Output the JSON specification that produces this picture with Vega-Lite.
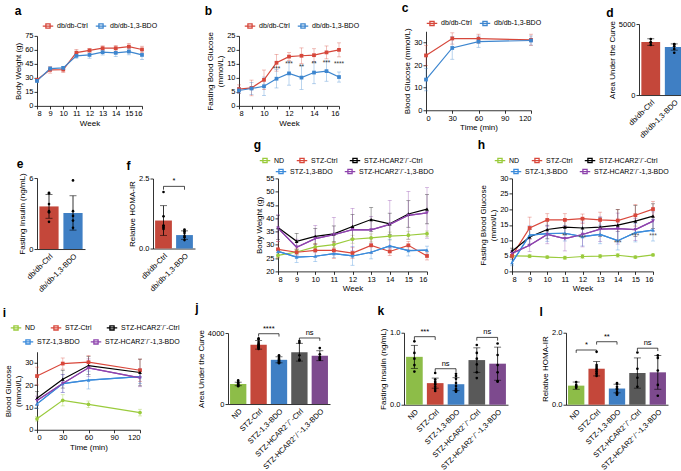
{
"$schema": "https://vega.github.io/schema/vega-lite/v6.json",
"padding": {"left": 2, "top": 2, "right": 0, "bottom": 0},
"config": {
 "font": "Liberation Sans",
 "view": {"stroke": null},
 "axis": {"grid": false, "domainColor": "#000", "tickColor": "#000", "labelColor": "#000", "titleColor": "#000", "labelFontSize": 7.5, "titleFontSize": 8, "titleFontWeight": "normal", "tickSize": 3, "domainWidth": 0.8, "tickWidth": 0.8, "labelPadding": 1, "titlePadding": 2},
 "legend": {"labelFontSize": 7, "labelColor": "#000", "labelOffset": 3, "columnPadding": 5},
 "title": {"fontSize": 12, "fontWeight": "bold", "anchor": "start", "frame": "bounds", "offset": 2, "color": "#000"}
},
"datasets": {
 "a": [
  {"group":"db/db-Ctrl","week":8,"mean":27.9,"sd":1.5},{"group":"db/db-Ctrl","week":9,"mean":38.6,"sd":3.5},{"group":"db/db-Ctrl","week":10,"mean":38.8,"sd":3},{"group":"db/db-Ctrl","week":11,"mean":57,"sd":3.5},{"group":"db/db-Ctrl","week":12,"mean":59.5,"sd":2},{"group":"db/db-Ctrl","week":13,"mean":61.8,"sd":2.5},{"group":"db/db-Ctrl","week":14,"mean":61.8,"sd":3},{"group":"db/db-Ctrl","week":15,"mean":63.5,"sd":3.5},{"group":"db/db-Ctrl","week":16,"mean":60.4,"sd":3.5},
  {"group":"db/db-1,3-BDO","week":8,"mean":26.8,"sd":1.5},{"group":"db/db-1,3-BDO","week":9,"mean":40,"sd":1.5},{"group":"db/db-1,3-BDO","week":10,"mean":40.7,"sd":1.5},{"group":"db/db-1,3-BDO","week":11,"mean":53.6,"sd":2.5},{"group":"db/db-1,3-BDO","week":12,"mean":54.6,"sd":3.5},{"group":"db/db-1,3-BDO","week":13,"mean":57.5,"sd":3},{"group":"db/db-1,3-BDO","week":14,"mean":56.8,"sd":4},{"group":"db/db-1,3-BDO","week":15,"mean":58.2,"sd":3.5},{"group":"db/db-1,3-BDO","week":16,"mean":54.6,"sd":5}
 ],
 "b": [
  {"group":"db/db-Ctrl","week":8,"mean":6.0,"sd":1.5},{"group":"db/db-Ctrl","week":9,"mean":6.4,"sd":2.8},{"group":"db/db-Ctrl","week":10,"mean":9.3,"sd":3.5},{"group":"db/db-Ctrl","week":11,"mean":15.4,"sd":3},{"group":"db/db-Ctrl","week":12,"mean":17.6,"sd":1.4},{"group":"db/db-Ctrl","week":13,"mean":17.9,"sd":2.8},{"group":"db/db-Ctrl","week":14,"mean":18.1,"sd":2.3},{"group":"db/db-Ctrl","week":15,"mean":19.1,"sd":2.3},{"group":"db/db-Ctrl","week":16,"mean":20.0,"sd":2.5},
  {"group":"db/db-1,3-BDO","week":8,"mean":5.5,"sd":1.0},{"group":"db/db-1,3-BDO","week":9,"mean":6.2,"sd":2.2},{"group":"db/db-1,3-BDO","week":10,"mean":7.0,"sd":3.3},{"group":"db/db-1,3-BDO","week":11,"mean":9.7,"sd":3.3},{"group":"db/db-1,3-BDO","week":12,"mean":11.6,"sd":4.2},{"group":"db/db-1,3-BDO","week":13,"mean":10.1,"sd":4.2},{"group":"db/db-1,3-BDO","week":14,"mean":11.9,"sd":4.0},{"group":"db/db-1,3-BDO","week":15,"mean":12.4,"sd":3.6},{"group":"db/db-1,3-BDO","week":16,"mean":10.3,"sd":1.8}
 ],
 "b_sig": [
  {"week":11,"y":12.0,"label":"***"},{"week":12,"y":13.9,"label":"***"},{"week":13,"y":12.8,"label":"**"},{"week":14,"y":13.9,"label":"**"},{"week":15,"y":14.2,"label":"***"},{"week":16,"y":13.9,"label":"****"}
 ],
 "c": [
  {"group":"db/db-Ctrl","week":0,"mean":24.3,"sd":4.5},{"group":"db/db-Ctrl","week":30,"mean":31.8,"sd":2.5},{"group":"db/db-Ctrl","week":60,"mean":31.7,"sd":2},{"group":"db/db-Ctrl","week":120,"mean":31.2,"sd":2.5},
  {"group":"db/db-1,3-BDO","week":0,"mean":13.6,"sd":5},{"group":"db/db-1,3-BDO","week":30,"mean":27.6,"sd":5},{"group":"db/db-1,3-BDO","week":60,"mean":30.4,"sd":2.5},{"group":"db/db-1,3-BDO","week":120,"mean":30.9,"sd":2}
 ],
 "d_bar": [{"group":"db/db-Ctrl","mean":3730,"sd":230},{"group":"db/db-1,3-BDO","mean":3380,"sd":220}],
 "d_pts": [{"group":"db/db-Ctrl","value":3940},{"group":"db/db-Ctrl","value":3710},{"group":"db/db-Ctrl","value":3690},{"group":"db/db-Ctrl","value":3520},{"group":"db/db-1,3-BDO","value":3590},{"group":"db/db-1,3-BDO","value":3560},{"group":"db/db-1,3-BDO","value":3430},{"group":"db/db-1,3-BDO","value":3240},{"group":"db/db-1,3-BDO","value":2980}],
 "e_bar": [{"group":"db/db-Ctrl","mean":3.6,"sd":1.0},{"group":"db/db-1,3-BDO","mean":3.05,"sd":1.45}],
 "e_pts": [{"group":"db/db-Ctrl","value":4.75},{"group":"db/db-Ctrl","value":4.7},{"group":"db/db-Ctrl","value":3.8},{"group":"db/db-Ctrl","value":3.2},{"group":"db/db-Ctrl","value":3.1},{"group":"db/db-Ctrl","value":2.3},{"group":"db/db-1,3-BDO","value":5.8},{"group":"db/db-1,3-BDO","value":3.2},{"group":"db/db-1,3-BDO","value":2.8},{"group":"db/db-1,3-BDO","value":2.4},{"group":"db/db-1,3-BDO","value":1.8}],
 "f_bar": [{"group":"db/db-Ctrl","mean":1.0,"sd":0.53},{"group":"db/db-1,3-BDO","mean":0.48,"sd":0.15}],
 "f_pts": [{"group":"db/db-Ctrl","value":2.02},{"group":"db/db-Ctrl","value":1.15},{"group":"db/db-Ctrl","value":0.82},{"group":"db/db-Ctrl","value":0.8},{"group":"db/db-Ctrl","value":0.75},{"group":"db/db-Ctrl","value":0.7},{"group":"db/db-1,3-BDO","value":0.68},{"group":"db/db-1,3-BDO","value":0.62},{"group":"db/db-1,3-BDO","value":0.55},{"group":"db/db-1,3-BDO","value":0.45},{"group":"db/db-1,3-BDO","value":0.4},{"group":"db/db-1,3-BDO","value":0.3}],
 "f_sig": [{"g1":"db/db-Ctrl","g2":"db/db-1,3-BDO","y":2.22,"yt":2.1,"label":"*"}],
 "g": [
  {"group":"ND","week":8,"mean":26.0,"sd":1.0},{"group":"ND","week":9,"mean":27.3,"sd":1.0},{"group":"ND","week":10,"mean":29.2,"sd":1.2},{"group":"ND","week":11,"mean":30.1,"sd":1.2},{"group":"ND","week":12,"mean":32.1,"sd":1.5},{"group":"ND","week":13,"mean":32.6,"sd":1.5},{"group":"ND","week":14,"mean":33.3,"sd":1.5},{"group":"ND","week":15,"mean":33.6,"sd":1.5},{"group":"ND","week":16,"mean":34.2,"sd":1.0},
  {"group":"STZ-Ctrl","week":8,"mean":28.3,"sd":3},{"group":"STZ-Ctrl","week":9,"mean":27.2,"sd":1.5},{"group":"STZ-Ctrl","week":10,"mean":27.9,"sd":2.5},{"group":"STZ-Ctrl","week":11,"mean":27.9,"sd":3},{"group":"STZ-Ctrl","week":12,"mean":26.9,"sd":2},{"group":"STZ-Ctrl","week":13,"mean":29.8,"sd":3},{"group":"STZ-Ctrl","week":14,"mean":27.5,"sd":1.5},{"group":"STZ-Ctrl","week":15,"mean":29.8,"sd":1.5},{"group":"STZ-Ctrl","week":16,"mean":25.8,"sd":1.5},
  {"group":"STZ-HCAR2⁻/⁻-Ctrl","week":8,"mean":36.5,"sd":4.5},{"group":"STZ-HCAR2⁻/⁻-Ctrl","week":9,"mean":31.3,"sd":3},{"group":"STZ-HCAR2⁻/⁻-Ctrl","week":10,"mean":33.2,"sd":3},{"group":"STZ-HCAR2⁻/⁻-Ctrl","week":11,"mean":34.1,"sd":3},{"group":"STZ-HCAR2⁻/⁻-Ctrl","week":12,"mean":36.9,"sd":4.5},{"group":"STZ-HCAR2⁻/⁻-Ctrl","week":13,"mean":39.5,"sd":4.5},{"group":"STZ-HCAR2⁻/⁻-Ctrl","week":14,"mean":37.9,"sd":4},{"group":"STZ-HCAR2⁻/⁻-Ctrl","week":15,"mean":41.6,"sd":5},{"group":"STZ-HCAR2⁻/⁻-Ctrl","week":16,"mean":43.4,"sd":5.5},
  {"group":"STZ-1,3-BDO","week":8,"mean":27.5,"sd":1},{"group":"STZ-1,3-BDO","week":9,"mean":25.4,"sd":2},{"group":"STZ-1,3-BDO","week":10,"mean":25.7,"sd":2},{"group":"STZ-1,3-BDO","week":11,"mean":26.7,"sd":1.5},{"group":"STZ-1,3-BDO","week":12,"mean":25.8,"sd":3.5},{"group":"STZ-1,3-BDO","week":13,"mean":27.2,"sd":2.5},{"group":"STZ-1,3-BDO","week":14,"mean":29.6,"sd":2.5},{"group":"STZ-1,3-BDO","week":15,"mean":27.8,"sd":2},{"group":"STZ-1,3-BDO","week":16,"mean":28.0,"sd":1.5},
  {"group":"STZ-HCAR2⁻/⁻-1,3-BDO","week":8,"mean":36.3,"sd":5},{"group":"STZ-HCAR2⁻/⁻-1,3-BDO","week":9,"mean":29.1,"sd":3},{"group":"STZ-HCAR2⁻/⁻-1,3-BDO","week":10,"mean":32.3,"sd":5},{"group":"STZ-HCAR2⁻/⁻-1,3-BDO","week":11,"mean":33.8,"sd":6.5},{"group":"STZ-HCAR2⁻/⁻-1,3-BDO","week":12,"mean":35.7,"sd":8},{"group":"STZ-HCAR2⁻/⁻-1,3-BDO","week":13,"mean":35.6,"sd":5},{"group":"STZ-HCAR2⁻/⁻-1,3-BDO","week":14,"mean":37.7,"sd":9},{"group":"STZ-HCAR2⁻/⁻-1,3-BDO","week":15,"mean":41.1,"sd":9},{"group":"STZ-HCAR2⁻/⁻-1,3-BDO","week":16,"mean":42.0,"sd":9.5}
 ],
 "h": [
  {"group":"ND","week":8,"mean":5.0,"sd":0.4},{"group":"ND","week":9,"mean":4.9,"sd":0.5},{"group":"ND","week":10,"mean":4.6,"sd":0.4},{"group":"ND","week":11,"mean":4.4,"sd":0.5},{"group":"ND","week":12,"mean":4.8,"sd":0.7},{"group":"ND","week":13,"mean":4.9,"sd":0.6},{"group":"ND","week":14,"mean":5.2,"sd":0.6},{"group":"ND","week":15,"mean":4.6,"sd":0.4},{"group":"ND","week":16,"mean":5.3,"sd":0.3},
  {"group":"STZ-Ctrl","week":8,"mean":5.0,"sd":1},{"group":"STZ-Ctrl","week":9,"mean":14.0,"sd":3.5},{"group":"STZ-Ctrl","week":10,"mean":16.6,"sd":2},{"group":"STZ-Ctrl","week":11,"mean":16.6,"sd":2},{"group":"STZ-Ctrl","week":12,"mean":17.0,"sd":1.5},{"group":"STZ-Ctrl","week":13,"mean":16.6,"sd":2.5},{"group":"STZ-Ctrl","week":14,"mean":16.4,"sd":3.5},{"group":"STZ-Ctrl","week":15,"mean":18.1,"sd":3.5},{"group":"STZ-Ctrl","week":16,"mean":20.1,"sd":2.5},
  {"group":"STZ-HCAR2⁻/⁻-Ctrl","week":8,"mean":6.5,"sd":1},{"group":"STZ-HCAR2⁻/⁻-Ctrl","week":9,"mean":11.1,"sd":2.5},{"group":"STZ-HCAR2⁻/⁻-Ctrl","week":10,"mean":13.5,"sd":3},{"group":"STZ-HCAR2⁻/⁻-Ctrl","week":11,"mean":14.3,"sd":2.5},{"group":"STZ-HCAR2⁻/⁻-Ctrl","week":12,"mean":14.0,"sd":3},{"group":"STZ-HCAR2⁻/⁻-Ctrl","week":13,"mean":14.3,"sd":3},{"group":"STZ-HCAR2⁻/⁻-Ctrl","week":14,"mean":14.9,"sd":5},{"group":"STZ-HCAR2⁻/⁻-Ctrl","week":15,"mean":16.2,"sd":5},{"group":"STZ-HCAR2⁻/⁻-Ctrl","week":16,"mean":17.8,"sd":4},
  {"group":"STZ-1,3-BDO","week":8,"mean":2.8,"sd":1},{"group":"STZ-1,3-BDO","week":9,"mean":11.7,"sd":3},{"group":"STZ-1,3-BDO","week":10,"mean":12.2,"sd":2.5},{"group":"STZ-1,3-BDO","week":11,"mean":12.3,"sd":2.5},{"group":"STZ-1,3-BDO","week":12,"mean":11.2,"sd":3},{"group":"STZ-1,3-BDO","week":13,"mean":11.9,"sd":3},{"group":"STZ-1,3-BDO","week":14,"mean":9.9,"sd":3},{"group":"STZ-1,3-BDO","week":15,"mean":12.5,"sd":3},{"group":"STZ-1,3-BDO","week":16,"mean":13.3,"sd":3.5},
  {"group":"STZ-HCAR2⁻/⁻-1,3-BDO","week":8,"mean":5.8,"sd":1},{"group":"STZ-HCAR2⁻/⁻-1,3-BDO","week":9,"mean":8.4,"sd":2},{"group":"STZ-HCAR2⁻/⁻-1,3-BDO","week":10,"mean":11.9,"sd":3},{"group":"STZ-HCAR2⁻/⁻-1,3-BDO","week":11,"mean":10.6,"sd":4},{"group":"STZ-HCAR2⁻/⁻-1,3-BDO","week":12,"mean":11.9,"sd":4},{"group":"STZ-HCAR2⁻/⁻-1,3-BDO","week":13,"mean":13.6,"sd":4},{"group":"STZ-HCAR2⁻/⁻-1,3-BDO","week":14,"mean":13.8,"sd":5},{"group":"STZ-HCAR2⁻/⁻-1,3-BDO","week":15,"mean":13.5,"sd":3.5},{"group":"STZ-HCAR2⁻/⁻-1,3-BDO","week":16,"mean":16.2,"sd":3}
 ],
 "h_sig": [{"week":11,"y":11.4,"label":"**"},{"week":12,"y":10.8,"label":"***"},{"week":14,"y":9.0,"label":"***"},{"week":15,"y":11.4,"label":"***"},{"week":16,"y":11.4,"label":"***"}],
 "i": [
  {"group":"ND","week":0,"mean":4.9,"sd":1},{"group":"ND","week":30,"mean":13.2,"sd":2.5},{"group":"ND","week":60,"mean":11.4,"sd":1.5},{"group":"ND","week":120,"mean":7.7,"sd":1.5},
  {"group":"STZ-Ctrl","week":0,"mean":24.1,"sd":4},{"group":"STZ-Ctrl","week":30,"mean":29.7,"sd":2.5},{"group":"STZ-Ctrl","week":60,"mean":30.3,"sd":3},{"group":"STZ-Ctrl","week":120,"mean":26.7,"sd":5},
  {"group":"STZ-HCAR2⁻/⁻-Ctrl","week":0,"mean":14.1,"sd":3},{"group":"STZ-HCAR2⁻/⁻-Ctrl","week":30,"mean":22.7,"sd":4},{"group":"STZ-HCAR2⁻/⁻-Ctrl","week":60,"mean":28.8,"sd":4},{"group":"STZ-HCAR2⁻/⁻-Ctrl","week":120,"mean":25.7,"sd":6},
  {"group":"STZ-1,3-BDO","week":0,"mean":11.6,"sd":2},{"group":"STZ-1,3-BDO","week":30,"mean":20.7,"sd":4},{"group":"STZ-1,3-BDO","week":60,"mean":22.3,"sd":4},{"group":"STZ-1,3-BDO","week":120,"mean":23.8,"sd":3},
  {"group":"STZ-HCAR2⁻/⁻-1,3-BDO","week":0,"mean":13.1,"sd":2},{"group":"STZ-HCAR2⁻/⁻-1,3-BDO","week":30,"mean":20.8,"sd":4},{"group":"STZ-HCAR2⁻/⁻-1,3-BDO","week":60,"mean":27.8,"sd":4},{"group":"STZ-HCAR2⁻/⁻-1,3-BDO","week":120,"mean":23.3,"sd":4}
 ],
 "j_bar": [{"group":"ND","mean":1130,"sd":100},{"group":"STZ-Ctrl","mean":3340,"sd":250},{"group":"STZ-1,3-BDO","mean":2490,"sd":170},{"group":"STZ-HCAR2⁻/⁻-Ctrl","mean":2920,"sd":500},{"group":"STZ-HCAR2⁻/⁻-1,3-BDO","mean":2720,"sd":280}],
 "j_pts": [{"group":"ND","value":1330},{"group":"ND","value":1230},{"group":"ND","value":1150},{"group":"ND","value":1100},{"group":"ND","value":1050},{"group":"ND","value":1000},
  {"group":"STZ-Ctrl","value":3700},{"group":"STZ-Ctrl","value":3650},{"group":"STZ-Ctrl","value":3500},{"group":"STZ-Ctrl","value":3400},{"group":"STZ-Ctrl","value":3350},{"group":"STZ-Ctrl","value":3300},{"group":"STZ-Ctrl","value":3250},{"group":"STZ-Ctrl","value":3200},{"group":"STZ-Ctrl","value":3150},{"group":"STZ-Ctrl","value":3100},
  {"group":"STZ-1,3-BDO","value":2750},{"group":"STZ-1,3-BDO","value":2650},{"group":"STZ-1,3-BDO","value":2550},{"group":"STZ-1,3-BDO","value":2500},{"group":"STZ-1,3-BDO","value":2450},{"group":"STZ-1,3-BDO","value":2400},{"group":"STZ-1,3-BDO","value":2350},{"group":"STZ-1,3-BDO","value":2300},
  {"group":"STZ-HCAR2⁻/⁻-Ctrl","value":3550},{"group":"STZ-HCAR2⁻/⁻-Ctrl","value":3450},{"group":"STZ-HCAR2⁻/⁻-Ctrl","value":2750},{"group":"STZ-HCAR2⁻/⁻-Ctrl","value":2500},{"group":"STZ-HCAR2⁻/⁻-Ctrl","value":2450},
  {"group":"STZ-HCAR2⁻/⁻-1,3-BDO","value":3150},{"group":"STZ-HCAR2⁻/⁻-1,3-BDO","value":2800},{"group":"STZ-HCAR2⁻/⁻-1,3-BDO","value":2650},{"group":"STZ-HCAR2⁻/⁻-1,3-BDO","value":2600},{"group":"STZ-HCAR2⁻/⁻-1,3-BDO","value":2550},{"group":"STZ-HCAR2⁻/⁻-1,3-BDO","value":2500}],
 "j_sig": [{"g1":"STZ-Ctrl","g2":"STZ-1,3-BDO","y":3960,"yt":3800,"label":"****"},{"g1":"STZ-HCAR2⁻/⁻-Ctrl","g2":"STZ-HCAR2⁻/⁻-1,3-BDO","y":3720,"yt":3560,"label":"ns"}],
 "k_bar": [{"group":"ND","mean":0.665,"sd":0.16},{"group":"STZ-Ctrl","mean":0.3,"sd":0.07},{"group":"STZ-1,3-BDO","mean":0.285,"sd":0.09},{"group":"STZ-HCAR2⁻/⁻-Ctrl","mean":0.62,"sd":0.17},{"group":"STZ-HCAR2⁻/⁻-1,3-BDO","mean":0.57,"sd":0.23}],
 "k_pts": [{"group":"ND","value":0.88},{"group":"ND","value":0.72},{"group":"ND","value":0.64},{"group":"ND","value":0.55},{"group":"ND","value":0.46},
  {"group":"STZ-Ctrl","value":0.44},{"group":"STZ-Ctrl","value":0.35},{"group":"STZ-Ctrl","value":0.32},{"group":"STZ-Ctrl","value":0.3},{"group":"STZ-Ctrl","value":0.28},{"group":"STZ-Ctrl","value":0.25},{"group":"STZ-Ctrl","value":0.22},{"group":"STZ-Ctrl","value":0.19},
  {"group":"STZ-1,3-BDO","value":0.43},{"group":"STZ-1,3-BDO","value":0.4},{"group":"STZ-1,3-BDO","value":0.36},{"group":"STZ-1,3-BDO","value":0.3},{"group":"STZ-1,3-BDO","value":0.26},{"group":"STZ-1,3-BDO","value":0.22},{"group":"STZ-1,3-BDO","value":0.2},{"group":"STZ-1,3-BDO","value":0.19},{"group":"STZ-1,3-BDO","value":0.18},
  {"group":"STZ-HCAR2⁻/⁻-Ctrl","value":0.83},{"group":"STZ-HCAR2⁻/⁻-Ctrl","value":0.72},{"group":"STZ-HCAR2⁻/⁻-Ctrl","value":0.64},{"group":"STZ-HCAR2⁻/⁻-Ctrl","value":0.56},{"group":"STZ-HCAR2⁻/⁻-Ctrl","value":0.45},{"group":"STZ-HCAR2⁻/⁻-Ctrl","value":0.37},
  {"group":"STZ-HCAR2⁻/⁻-1,3-BDO","value":0.85},{"group":"STZ-HCAR2⁻/⁻-1,3-BDO","value":0.69},{"group":"STZ-HCAR2⁻/⁻-1,3-BDO","value":0.55},{"group":"STZ-HCAR2⁻/⁻-1,3-BDO","value":0.45},{"group":"STZ-HCAR2⁻/⁻-1,3-BDO","value":0.33},{"group":"STZ-HCAR2⁻/⁻-1,3-BDO","value":0.32}],
 "k_sig": [{"g1":"ND","g2":"STZ-Ctrl","y":0.945,"yt":0.9,"label":"***"},{"g1":"STZ-Ctrl","g2":"STZ-1,3-BDO","y":0.5,"yt":0.455,"label":"ns"},{"g1":"STZ-HCAR2⁻/⁻-Ctrl","g2":"STZ-HCAR2⁻/⁻-1,3-BDO","y":0.935,"yt":0.89,"label":"ns"}],
 "l_bar": [{"group":"ND","mean":0.53,"sd":0.1},{"group":"STZ-Ctrl","mean":1.0,"sd":0.2},{"group":"STZ-1,3-BDO","mean":0.45,"sd":0.12},{"group":"STZ-HCAR2⁻/⁻-Ctrl","mean":0.88,"sd":0.42},{"group":"STZ-HCAR2⁻/⁻-1,3-BDO","mean":0.9,"sd":0.47}],
 "l_pts": [{"group":"ND","value":0.63},{"group":"ND","value":0.55},{"group":"ND","value":0.52},{"group":"ND","value":0.5},{"group":"ND","value":0.47},
  {"group":"STZ-Ctrl","value":1.47},{"group":"STZ-Ctrl","value":1.1},{"group":"STZ-Ctrl","value":1.05},{"group":"STZ-Ctrl","value":1.0},{"group":"STZ-Ctrl","value":0.97},{"group":"STZ-Ctrl","value":0.93},{"group":"STZ-Ctrl","value":0.88},{"group":"STZ-Ctrl","value":0.85},{"group":"STZ-Ctrl","value":0.8},
  {"group":"STZ-1,3-BDO","value":0.6},{"group":"STZ-1,3-BDO","value":0.58},{"group":"STZ-1,3-BDO","value":0.5},{"group":"STZ-1,3-BDO","value":0.45},{"group":"STZ-1,3-BDO","value":0.42},{"group":"STZ-1,3-BDO","value":0.35},{"group":"STZ-1,3-BDO","value":0.32},{"group":"STZ-1,3-BDO","value":0.28},
  {"group":"STZ-HCAR2⁻/⁻-Ctrl","value":1.45},{"group":"STZ-HCAR2⁻/⁻-Ctrl","value":1.0},{"group":"STZ-HCAR2⁻/⁻-Ctrl","value":0.75},{"group":"STZ-HCAR2⁻/⁻-Ctrl","value":0.5},
  {"group":"STZ-HCAR2⁻/⁻-1,3-BDO","value":1.37},{"group":"STZ-HCAR2⁻/⁻-1,3-BDO","value":1.3},{"group":"STZ-HCAR2⁻/⁻-1,3-BDO","value":0.95},{"group":"STZ-HCAR2⁻/⁻-1,3-BDO","value":0.55},{"group":"STZ-HCAR2⁻/⁻-1,3-BDO","value":0.25}],
 "l_sig": [{"g1":"ND","g2":"STZ-Ctrl","y":1.52,"yt":1.44,"label":"*"},{"g1":"STZ-Ctrl","g2":"STZ-1,3-BDO","y":1.75,"yt":1.67,"label":"**"},{"g1":"STZ-HCAR2⁻/⁻-Ctrl","g2":"STZ-HCAR2⁻/⁻-1,3-BDO","y":1.57,"yt":1.49,"label":"ns"}]
},
"resolve": {"scale": {"color": "independent", "stroke": "independent", "shape": "independent"}, "legend": {"color": "independent", "stroke": "independent", "shape": "independent"}},
"spacing": 0,
"vconcat": [
 {
  "spacing": 41, "center": true,
  "resolve": {"scale": {"color": "independent", "stroke": "independent", "shape": "independent"}, "legend": {"color": "independent", "stroke": "independent", "shape": "independent"}},
  "hconcat": [
   {"spacing": 46, "center": true,
    "resolve": {"scale": {"color": "independent", "stroke": "independent", "shape": "independent"}, "legend": {"color": "independent", "stroke": "independent", "shape": "independent"}},
    "hconcat": [
   {
    "title": {"text": "a", "dx": 0, "offset": 2},
    "width": 105, "height": 70,
    "data": {"name": "a"},
    "encoding": {
     "x": {"field": "week", "type": "quantitative", "scale": {"domain": [8, 16], "nice": false}, "axis": {"values": [8,9,10,11,12,13,14,15,16], "title": "Week"}},
     "y": {"field": "mean", "type": "quantitative", "scale": {"domain": [0, 75], "nice": false}, "axis": {"values": [0,15,30,45,60,75], "title": "Body Weight (g)"}}
    },
    "layer": [
     {"mark": {"type": "errorbar", "ticks": {"size": 4}, "thickness": 0.7, "opacity": 0.5}, "encoding": {"yError": {"field": "sd"}, "color": {"field": "group", "type": "nominal", "scale": {"domain": ["db/db-Ctrl","db/db-1,3-BDO"], "range": ["#d6473b","#3d86cf"]}, "legend": null}}},
     {"mark": {"type": "line", "strokeWidth": 1.2}, "encoding": {"color": {"field": "group", "type": "nominal", "scale": {"domain": ["db/db-Ctrl","db/db-1,3-BDO"], "range": ["#d6473b","#3d86cf"]}, "legend": {"title": null, "orient": "none", "legendX": 5, "legendY": -16, "direction": "horizontal", "symbolType": "M-1,0H1M-0.4,-0.4H0.4V0.4H-0.4Z", "symbolSize": 110, "symbolStrokeWidth": 1.3}}}},
     {"mark": {"type": "point", "filled": true, "size": 14, "opacity": 1, "shape": "square"}, "encoding": {"color": {"field": "group", "type": "nominal", "scale": {"domain": ["db/db-Ctrl","db/db-1,3-BDO"], "range": ["#d6473b","#3d86cf"]}, "legend": null}}}
    ],
    "resolve": {"legend": {"color": "independent"}}
   },
   {
    "title": {"text": "b", "dx": -2, "offset": 2},
    "width": 100, "height": 70,
    "encoding": {
     "x": {"field": "week", "type": "quantitative", "scale": {"domain": [8, 16], "nice": false}, "axis": {"values": [8,9,10,11,12,13,14,15,16], "title": "Week"}},
     "y": {"field": "mean", "type": "quantitative", "scale": {"domain": [0, 25], "nice": false}, "axis": {"values": [0,5,10,15,20,25], "title": ["Fasting Bood Glucose", "(mmol/L)"]}}
    },
    "layer": [
     {"data": {"name": "b"}, "mark": {"type": "errorbar", "ticks": {"size": 4}, "thickness": 0.7, "opacity": 0.5}, "encoding": {"yError": {"field": "sd"}, "color": {"field": "group", "type": "nominal", "scale": {"domain": ["db/db-Ctrl","db/db-1,3-BDO"], "range": ["#d6473b","#3d86cf"]}, "legend": null}}},
     {"data": {"name": "b"}, "mark": {"type": "line", "strokeWidth": 1.2}, "encoding": {"color": {"field": "group", "type": "nominal", "scale": {"domain": ["db/db-Ctrl","db/db-1,3-BDO"], "range": ["#d6473b","#3d86cf"]}, "legend": {"title": null, "orient": "none", "legendX": 5, "legendY": -16, "direction": "horizontal", "symbolType": "M-1,0H1M-0.4,-0.4H0.4V0.4H-0.4Z", "symbolSize": 110, "symbolStrokeWidth": 1.3}}}},
     {"data": {"name": "b"}, "mark": {"type": "point", "filled": true, "size": 14, "opacity": 1, "shape": "square"}, "encoding": {"color": {"field": "group", "type": "nominal", "scale": {"domain": ["db/db-Ctrl","db/db-1,3-BDO"], "range": ["#d6473b","#3d86cf"]}, "legend": null}}},
     {"data": {"name": "b_sig"}, "mark": {"type": "text", "fontSize": 6.5, "baseline": "bottom", "color": "#333"}, "encoding": {"y": {"field": "y", "type": "quantitative"}, "text": {"field": "label"}}}
    ],
    "resolve": {"legend": {"color": "independent"}}
   }
   ]},
   {"spacing": 64, "center": true,
    "resolve": {"scale": {"color": "independent", "stroke": "independent", "shape": "independent"}, "legend": {"color": "independent", "stroke": "independent", "shape": "independent"}},
    "hconcat": [
   {
    "title": {"text": "c", "dx": -2, "offset": 2},
    "width": 105, "height": 79,
    "data": {"name": "c"},
    "encoding": {
     "x": {"field": "week", "type": "quantitative", "scale": {"domain": [0, 120], "nice": false}, "axis": {"values": [0,30,60,90,120], "title": "Time (min)"}},
     "y": {"field": "mean", "type": "quantitative", "scale": {"domain": [0, 35], "nice": false}, "axis": {"values": [0,10,20,30], "title": "Blood Glucose (mmol/L)"}}
    },
    "layer": [
     {"mark": {"type": "errorbar", "ticks": {"size": 4}, "thickness": 0.7, "opacity": 0.5}, "encoding": {"yError": {"field": "sd"}, "color": {"field": "group", "type": "nominal", "scale": {"domain": ["db/db-Ctrl","db/db-1,3-BDO"], "range": ["#d6473b","#3d86cf"]}, "legend": null}}},
     {"mark": {"type": "line", "strokeWidth": 1.2}, "encoding": {"color": {"field": "group", "type": "nominal", "scale": {"domain": ["db/db-Ctrl","db/db-1,3-BDO"], "range": ["#d6473b","#3d86cf"]}, "legend": {"title": null, "orient": "none", "legendX": 0, "legendY": -14, "direction": "horizontal", "symbolType": "M-1,0H1M-0.4,-0.4H0.4V0.4H-0.4Z", "symbolSize": 110, "symbolStrokeWidth": 1.3}}}},
     {"mark": {"type": "point", "filled": true, "size": 14, "opacity": 1, "shape": "square"}, "encoding": {"color": {"field": "group", "type": "nominal", "scale": {"domain": ["db/db-Ctrl","db/db-1,3-BDO"], "range": ["#d6473b","#3d86cf"]}, "legend": null}}}
    ],
    "resolve": {"legend": {"color": "independent"}}
   },
   {
    "title": {"text": "d", "dx": -2, "offset": 0},
    "width": 47, "height": 71,
    "encoding": {
     "x": {"field": "group", "type": "nominal", "title": null, "scale": {"domain": ["db/db-Ctrl","db/db-1,3-BDO"], "paddingInner": 0.2, "paddingOuter": 0.1}, "axis": {"labelAngle": -45, "labelAlign": "right", "labelBaseline": "top", "ticks": false, "labelPadding": 3}}
    },
    "layer": [
     {"data": {"name": "d_bar"}, "mark": {"type": "bar"}, "encoding": {"y": {"field": "mean", "type": "quantitative", "title": "Area Under the Curve", "scale": {"domain": [0, 5000], "nice": false}, "axis": {"values": [0,1000,2000,3000,4000,5000], "format": "d"}}, "color": {"field": "group", "type": "nominal", "scale": {"domain": ["db/db-Ctrl","db/db-1,3-BDO"], "range": ["#c4473a","#3f7fc4"]}, "legend": null}}},
     {"data": {"name": "d_bar"}, "mark": {"type": "errorbar", "ticks": {"size": 7}, "thickness": 0.8, "color": "#000"}, "encoding": {"y": {"field": "mean", "type": "quantitative", "title": "Area Under the Curve"}, "yError": {"field": "sd"}}},
     {"data": {"name": "d_pts"}, "mark": {"type": "point", "filled": true, "size": 7, "color": "#000", "opacity": 1}, "encoding": {"y": {"field": "value", "type": "quantitative", "title": "Area Under the Curve"}}}
    ]
   }
   ]}
  ]
 },
 {
 "spacing": 8,
 "resolve": {"scale": {"color": "independent", "stroke": "independent", "shape": "independent"}, "legend": {"color": "independent", "stroke": "independent", "shape": "independent"}},
 "vconcat": [
 {
  "spacing": 58, "center": true,
  "resolve": {"scale": {"color": "independent", "stroke": "independent", "shape": "independent"}, "legend": {"color": "independent", "stroke": "independent", "shape": "independent"}},
  "hconcat": [
   {"spacing": 41, "center": true,
    "resolve": {"scale": {"color": "independent", "stroke": "independent", "shape": "independent"}, "legend": {"color": "independent", "stroke": "independent", "shape": "independent"}},
    "hconcat": [
   {
    "title": {"text": "e", "dx": -2, "offset": 2},
    "width": 48, "height": 71,
    "encoding": {
     "x": {"field": "group", "type": "nominal", "title": null, "scale": {"domain": ["db/db-Ctrl","db/db-1,3-BDO"], "paddingInner": 0.2, "paddingOuter": 0.1}, "axis": {"labelAngle": -45, "labelAlign": "right", "labelBaseline": "top", "ticks": false, "labelPadding": 3}}
    },
    "layer": [
     {"data": {"name": "e_bar"}, "mark": {"type": "bar"}, "encoding": {"y": {"field": "mean", "type": "quantitative", "title": "Fasting Insulin (ng/mL)", "scale": {"domain": [0, 6], "nice": false}, "axis": {"values": [0,2,4,6]}}, "color": {"field": "group", "type": "nominal", "scale": {"domain": ["db/db-Ctrl","db/db-1,3-BDO"], "range": ["#c4473a","#3f7fc4"]}, "legend": null}}},
     {"data": {"name": "e_bar"}, "mark": {"type": "errorbar", "ticks": {"size": 7}, "thickness": 0.8, "color": "#000"}, "encoding": {"y": {"field": "mean", "type": "quantitative", "title": "Fasting Insulin (ng/mL)"}, "yError": {"field": "sd"}}},
     {"data": {"name": "e_pts"}, "mark": {"type": "point", "filled": true, "size": 7, "color": "#000", "opacity": 1}, "encoding": {"y": {"field": "value", "type": "quantitative", "title": "Fasting Insulin (ng/mL)"}}}
    ]
   },
   {
    "title": {"text": "f", "dx": -2, "offset": 2},
    "width": 42, "height": 70,
    "encoding": {
     "x": {"field": "group", "type": "nominal", "title": null, "scale": {"domain": ["db/db-Ctrl","db/db-1,3-BDO"], "paddingInner": 0.2, "paddingOuter": 0.1}, "axis": {"labelAngle": -45, "labelAlign": "right", "labelBaseline": "top", "ticks": false, "labelPadding": 3}}
    },
    "layer": [
     {"data": {"name": "f_bar"}, "mark": {"type": "bar"}, "encoding": {"y": {"field": "mean", "type": "quantitative", "title": "Relative HOMA-IR", "scale": {"domain": [0, 2.5], "nice": false}, "axis": {"values": [0,0.5,1,1.5,2,2.5], "format": ".1f"}}, "color": {"field": "group", "type": "nominal", "scale": {"domain": ["db/db-Ctrl","db/db-1,3-BDO"], "range": ["#c4473a","#3f7fc4"]}, "legend": null}}},
     {"data": {"name": "f_bar"}, "mark": {"type": "errorbar", "ticks": {"size": 7}, "thickness": 0.8, "color": "#000"}, "encoding": {"y": {"field": "mean", "type": "quantitative", "title": "Relative HOMA-IR"}, "yError": {"field": "sd"}}},
     {"data": {"name": "f_pts"}, "mark": {"type": "point", "filled": true, "size": 7, "color": "#000", "opacity": 1}, "encoding": {"y": {"field": "value", "type": "quantitative", "title": "Relative HOMA-IR"}}},
     {"data": {"name": "f_sig"}, "mark": {"type": "rule", "strokeWidth": 0.7, "color": "#000"}, "encoding": {"x": {"field": "g1", "type": "nominal"}, "x2": {"field": "g2"}, "y": {"field": "y", "type": "quantitative", "title": "Relative HOMA-IR"}}},
     {"data": {"name": "f_sig"}, "mark": {"type": "rule", "strokeWidth": 0.7, "color": "#000"}, "encoding": {"x": {"field": "g1", "type": "nominal"}, "y": {"field": "y", "type": "quantitative", "title": "Relative HOMA-IR"}, "y2": {"field": "yt"}}},
     {"data": {"name": "f_sig"}, "mark": {"type": "rule", "strokeWidth": 0.7, "color": "#000"}, "encoding": {"x": {"field": "g2", "type": "nominal"}, "y": {"field": "y", "type": "quantitative", "title": "Relative HOMA-IR"}, "y2": {"field": "yt"}}},
     {"data": {"name": "f_sig"}, "mark": {"type": "text", "fontSize": 7.5, "baseline": "bottom", "dy": -1}, "encoding": {"x": {"field": "g1", "type": "nominal", "bandPosition": 1.125}, "y": {"field": "y", "type": "quantitative", "title": "Relative HOMA-IR"}, "text": {"field": "label"}}}
    ]
   }
   ]},
   {"spacing": 43, "center": true,
    "resolve": {"scale": {"color": "independent", "stroke": "independent", "shape": "independent"}, "legend": {"color": "independent", "stroke": "independent", "shape": "independent"}},
    "hconcat": [
   {
    "title": {"text": "g", "dx": -2, "offset": 2},
    "width": 149, "height": 93,
    "data": {"name": "g"},
    "encoding": {
     "x": {"field": "week", "type": "quantitative", "scale": {"domain": [8, 16], "nice": false}, "axis": {"values": [8,9,10,11,12,13,14,15,16], "title": "Week"}},
     "y": {"field": "mean", "type": "quantitative", "scale": {"domain": [20, 55], "nice": false, "zero": false}, "axis": {"values": [20,25,30,35,40,45,50,55], "title": "Body Weight (g)"}}
    },
    "layer": [
     {"mark": {"type": "errorbar", "ticks": {"size": 4}, "thickness": 0.7, "opacity": 0.5}, "encoding": {"yError": {"field": "sd"}, "color": {"field": "group", "type": "nominal", "scale": {"domain": ["ND","STZ-Ctrl","STZ-HCAR2⁻/⁻-Ctrl","STZ-1,3-BDO","STZ-HCAR2⁻/⁻-1,3-BDO"], "range": ["#9acb3c","#d9473b","#000000","#3b8bdb","#8e44ad"]}, "legend": null}}},
     {"mark": {"type": "line", "strokeWidth": 1.2}, "encoding": {"color": {"field": "group", "type": "nominal", "scale": {"domain": ["ND","STZ-Ctrl","STZ-HCAR2⁻/⁻-Ctrl","STZ-1,3-BDO","STZ-HCAR2⁻/⁻-1,3-BDO"], "range": ["#9acb3c","#d9473b","#000000","#3b8bdb","#8e44ad"]}, "legend": {"title": null, "values": ["ND","STZ-Ctrl","STZ-HCAR2⁻/⁻-Ctrl"], "orient": "none", "legendX": -19, "legendY": -24, "direction": "horizontal", "symbolType": "M-1,0H1M-0.4,-0.4H0.4V0.4H-0.4Z", "symbolSize": 110, "symbolStrokeWidth": 1.3, "columnPadding": 9}}}},
     {"transform": [{"filter": {"field": "group", "oneOf": ["STZ-1,3-BDO","STZ-HCAR2⁻/⁻-1,3-BDO"]}}], "mark": {"type": "line", "strokeWidth": 1.2}, "encoding": {"stroke": {"field": "group", "type": "nominal", "scale": {"domain": ["STZ-1,3-BDO","STZ-HCAR2⁻/⁻-1,3-BDO"], "range": ["#3b8bdb","#8e44ad"]}, "legend": {"title": null, "orient": "none", "legendX": -3, "legendY": -13, "direction": "horizontal", "symbolType": "M-1,0H1M-0.4,-0.4H0.4V0.4H-0.4Z", "symbolSize": 110, "symbolStrokeWidth": 1.3, "columnPadding": 9}}}},
     {"mark": {"type": "point", "filled": true, "size": 14, "opacity": 1}, "encoding": {"color": {"field": "group", "type": "nominal", "scale": {"domain": ["ND","STZ-Ctrl","STZ-HCAR2⁻/⁻-Ctrl","STZ-1,3-BDO","STZ-HCAR2⁻/⁻-1,3-BDO"], "range": ["#9acb3c","#d9473b","#000000","#3b8bdb","#8e44ad"]}, "legend": null}, "shape": {"field": "group", "type": "nominal", "scale": {"domain": ["ND","STZ-Ctrl","STZ-HCAR2⁻/⁻-Ctrl","STZ-1,3-BDO","STZ-HCAR2⁻/⁻-1,3-BDO"], "range": ["circle","square","triangle-up","triangle-up","triangle-down"]}, "legend": null}}}
    ],
    "resolve": {"legend": {"color": "independent", "stroke": "independent"}}
   },
   {
    "title": {"text": "h", "dx": -2, "offset": 2},
    "width": 141, "height": 93,
    "encoding": {
     "x": {"field": "week", "type": "quantitative", "scale": {"domain": [8, 16], "nice": false}, "axis": {"values": [8,9,10,11,12,13,14,15,16], "title": "Week"}},
     "y": {"field": "mean", "type": "quantitative", "scale": {"domain": [0, 30], "nice": false}, "axis": {"values": [0,5,10,15,20,25,30], "title": ["Fasting Blood Glucose", "(mmol/L)"]}}
    },
    "layer": [
     {"data": {"name": "h"}, "mark": {"type": "errorbar", "ticks": {"size": 4}, "thickness": 0.7, "opacity": 0.5}, "encoding": {"yError": {"field": "sd"}, "color": {"field": "group", "type": "nominal", "scale": {"domain": ["ND","STZ-Ctrl","STZ-HCAR2⁻/⁻-Ctrl","STZ-1,3-BDO","STZ-HCAR2⁻/⁻-1,3-BDO"], "range": ["#9acb3c","#d9473b","#000000","#3b8bdb","#8e44ad"]}, "legend": null}}},
     {"data": {"name": "h"}, "mark": {"type": "line", "strokeWidth": 1.2}, "encoding": {"color": {"field": "group", "type": "nominal", "scale": {"domain": ["ND","STZ-Ctrl","STZ-HCAR2⁻/⁻-Ctrl","STZ-1,3-BDO","STZ-HCAR2⁻/⁻-1,3-BDO"], "range": ["#9acb3c","#d9473b","#000000","#3b8bdb","#8e44ad"]}, "legend": {"title": null, "values": ["ND","STZ-Ctrl","STZ-HCAR2⁻/⁻-Ctrl"], "orient": "none", "legendX": -18, "legendY": -24, "direction": "horizontal", "symbolType": "M-1,0H1M-0.4,-0.4H0.4V0.4H-0.4Z", "symbolSize": 110, "symbolStrokeWidth": 1.3, "columnPadding": 9}}}},
     {"data": {"name": "h"}, "transform": [{"filter": {"field": "group", "oneOf": ["STZ-1,3-BDO","STZ-HCAR2⁻/⁻-1,3-BDO"]}}], "mark": {"type": "line", "strokeWidth": 1.2}, "encoding": {"stroke": {"field": "group", "type": "nominal", "scale": {"domain": ["STZ-1,3-BDO","STZ-HCAR2⁻/⁻-1,3-BDO"], "range": ["#3b8bdb","#8e44ad"]}, "legend": {"title": null, "orient": "none", "legendX": -2, "legendY": -13, "direction": "horizontal", "symbolType": "M-1,0H1M-0.4,-0.4H0.4V0.4H-0.4Z", "symbolSize": 110, "symbolStrokeWidth": 1.3, "columnPadding": 9}}}},
     {"data": {"name": "h"}, "mark": {"type": "point", "filled": true, "size": 14, "opacity": 1}, "encoding": {"color": {"field": "group", "type": "nominal", "scale": {"domain": ["ND","STZ-Ctrl","STZ-HCAR2⁻/⁻-Ctrl","STZ-1,3-BDO","STZ-HCAR2⁻/⁻-1,3-BDO"], "range": ["#9acb3c","#d9473b","#000000","#3b8bdb","#8e44ad"]}, "legend": null}, "shape": {"field": "group", "type": "nominal", "scale": {"domain": ["ND","STZ-Ctrl","STZ-HCAR2⁻/⁻-Ctrl","STZ-1,3-BDO","STZ-HCAR2⁻/⁻-1,3-BDO"], "range": ["circle","square","triangle-up","triangle-up","triangle-down"]}, "legend": null}}},
     {"data": {"name": "h_sig"}, "mark": {"type": "text", "fontSize": 6.5, "baseline": "middle", "color": "#555"}, "encoding": {"y": {"field": "y", "type": "quantitative"}, "text": {"field": "label"}}}
    ],
    "resolve": {"legend": {"color": "independent", "stroke": "independent"}}
   }
   ]}
  ]
 },
 {
  "spacing": 15, "center": true,
  "resolve": {"scale": {"color": "independent", "stroke": "independent", "shape": "independent"}, "legend": {"color": "independent", "stroke": "independent", "shape": "independent"}},
  "hconcat": [
   {
    "title": {"text": "i", "dx": -2, "offset": 2},
    "width": 103, "height": 78,
    "data": {"name": "i"},
    "encoding": {
     "x": {"field": "week", "type": "quantitative", "scale": {"domain": [0, 120], "nice": false}, "axis": {"values": [0,30,60,90,120], "title": "Time (min)"}},
     "y": {"field": "mean", "type": "quantitative", "scale": {"domain": [0, 35], "nice": false}, "axis": {"values": [0,10,20,30], "title": ["Blood Glucose", "(mmol/L)"]}}
    },
    "layer": [
     {"mark": {"type": "errorbar", "ticks": {"size": 4}, "thickness": 0.7, "opacity": 0.5}, "encoding": {"yError": {"field": "sd"}, "color": {"field": "group", "type": "nominal", "scale": {"domain": ["ND","STZ-Ctrl","STZ-HCAR2⁻/⁻-Ctrl","STZ-1,3-BDO","STZ-HCAR2⁻/⁻-1,3-BDO"], "range": ["#9acb3c","#d9473b","#000000","#3b8bdb","#8e44ad"]}, "legend": null}}},
     {"mark": {"type": "line", "strokeWidth": 1.2}, "encoding": {"color": {"field": "group", "type": "nominal", "scale": {"domain": ["ND","STZ-Ctrl","STZ-HCAR2⁻/⁻-Ctrl","STZ-1,3-BDO","STZ-HCAR2⁻/⁻-1,3-BDO"], "range": ["#9acb3c","#d9473b","#000000","#3b8bdb","#8e44ad"]}, "legend": {"title": null, "values": ["ND","STZ-Ctrl","STZ-HCAR2⁻/⁻-Ctrl"], "orient": "none", "legendX": -27, "legendY": -30, "direction": "horizontal", "symbolType": "M-1,0H1M-0.4,-0.4H0.4V0.4H-0.4Z", "symbolSize": 110, "symbolStrokeWidth": 1.3, "columnPadding": 12}}}},
     {"transform": [{"filter": {"field": "group", "oneOf": ["STZ-1,3-BDO","STZ-HCAR2⁻/⁻-1,3-BDO"]}}], "mark": {"type": "line", "strokeWidth": 1.2}, "encoding": {"stroke": {"field": "group", "type": "nominal", "scale": {"domain": ["STZ-1,3-BDO","STZ-HCAR2⁻/⁻-1,3-BDO"], "range": ["#3b8bdb","#8e44ad"]}, "legend": {"title": null, "orient": "none", "legendX": -15, "legendY": -16, "direction": "horizontal", "symbolType": "M-1,0H1M-0.4,-0.4H0.4V0.4H-0.4Z", "symbolSize": 110, "symbolStrokeWidth": 1.3, "columnPadding": 8}}}},
     {"mark": {"type": "point", "filled": true, "size": 14, "opacity": 1}, "encoding": {"color": {"field": "group", "type": "nominal", "scale": {"domain": ["ND","STZ-Ctrl","STZ-HCAR2⁻/⁻-Ctrl","STZ-1,3-BDO","STZ-HCAR2⁻/⁻-1,3-BDO"], "range": ["#9acb3c","#d9473b","#000000","#3b8bdb","#8e44ad"]}, "legend": null}, "shape": {"field": "group", "type": "nominal", "scale": {"domain": ["ND","STZ-Ctrl","STZ-HCAR2⁻/⁻-Ctrl","STZ-1,3-BDO","STZ-HCAR2⁻/⁻-1,3-BDO"], "range": ["circle","square","triangle-up","triangle-up","triangle-down"]}, "legend": null}}}
    ],
    "resolve": {"legend": {"color": "independent", "stroke": "independent"}}
   },
   {"spacing": 47, "center": true,
    "resolve": {"scale": {"color": "independent", "stroke": "independent", "shape": "independent"}, "legend": {"color": "independent", "stroke": "independent", "shape": "independent"}},
    "hconcat": [
   {
    "title": {"text": "j", "dx": -2, "offset": 10},
    "width": 102, "height": 71,
    "encoding": {
     "x": {"field": "group", "type": "nominal", "title": null, "scale": {"domain": ["ND","STZ-Ctrl","STZ-1,3-BDO","STZ-HCAR2⁻/⁻-Ctrl","STZ-HCAR2⁻/⁻-1,3-BDO"], "paddingInner": 0.2, "paddingOuter": 0.1}, "axis": {"labelAngle": -45, "labelAlign": "right", "labelBaseline": "top", "ticks": false, "labelPadding": 3}}
    },
    "layer": [
     {"data": {"name": "j_bar"}, "mark": {"type": "bar"}, "encoding": {"y": {"field": "mean", "type": "quantitative", "title": "Area Under the Curve", "scale": {"domain": [0, 4000], "nice": false}, "axis": {"values": [0,1000,2000,3000,4000], "format": "d"}}, "color": {"field": "group", "type": "nominal", "scale": {"domain": ["ND","STZ-Ctrl","STZ-1,3-BDO","STZ-HCAR2⁻/⁻-Ctrl","STZ-HCAR2⁻/⁻-1,3-BDO"], "range": ["#8dbd48","#c4473a","#3f7fc4","#595959","#7d4a8e"]}, "legend": null}}},
     {"data": {"name": "j_bar"}, "mark": {"type": "errorbar", "ticks": {"size": 7}, "thickness": 0.8, "color": "#000"}, "encoding": {"y": {"field": "mean", "type": "quantitative", "title": "Area Under the Curve"}, "yError": {"field": "sd"}}},
     {"data": {"name": "j_pts"}, "mark": {"type": "point", "filled": true, "size": 7, "color": "#000", "opacity": 1}, "encoding": {"y": {"field": "value", "type": "quantitative", "title": "Area Under the Curve"}}},
     {"data": {"name": "j_sig"}, "mark": {"type": "rule", "strokeWidth": 0.7, "color": "#000"}, "encoding": {"x": {"field": "g1", "type": "nominal"}, "x2": {"field": "g2"}, "y": {"field": "y", "type": "quantitative", "title": "Area Under the Curve"}}},
     {"data": {"name": "j_sig"}, "mark": {"type": "rule", "strokeWidth": 0.7, "color": "#000"}, "encoding": {"x": {"field": "g1", "type": "nominal"}, "y": {"field": "y", "type": "quantitative", "title": "Area Under the Curve"}, "y2": {"field": "yt"}}},
     {"data": {"name": "j_sig"}, "mark": {"type": "rule", "strokeWidth": 0.7, "color": "#000"}, "encoding": {"x": {"field": "g2", "type": "nominal"}, "y": {"field": "y", "type": "quantitative", "title": "Area Under the Curve"}, "y2": {"field": "yt"}}},
     {"data": {"name": "j_sig"}, "mark": {"type": "text", "fontSize": 7.5, "baseline": "bottom", "dy": -1}, "encoding": {"x": {"field": "g1", "type": "nominal", "bandPosition": 1.125}, "y": {"field": "y", "type": "quantitative", "title": "Area Under the Curve"}, "text": {"field": "label"}}}
    ]
   },
   {"spacing": 31, "center": true,
    "resolve": {"scale": {"color": "independent", "stroke": "independent", "shape": "independent"}, "legend": {"color": "independent", "stroke": "independent", "shape": "independent"}},
    "hconcat": [
   {
    "title": {"text": "k", "dx": -2, "offset": 10},
    "width": 104, "height": 72,
    "encoding": {
     "x": {"field": "group", "type": "nominal", "title": null, "scale": {"domain": ["ND","STZ-Ctrl","STZ-1,3-BDO","STZ-HCAR2⁻/⁻-Ctrl","STZ-HCAR2⁻/⁻-1,3-BDO"], "paddingInner": 0.2, "paddingOuter": 0.1}, "axis": {"labelAngle": -45, "labelAlign": "right", "labelBaseline": "top", "ticks": false, "labelPadding": 3}}
    },
    "layer": [
     {"data": {"name": "k_bar"}, "mark": {"type": "bar"}, "encoding": {"y": {"field": "mean", "type": "quantitative", "title": "Fasting Insulin (ng/mL)", "scale": {"domain": [0, 1], "nice": false}, "axis": {"values": [0,0.2,0.4,0.6,0.8,1], "format": ".1f"}}, "color": {"field": "group", "type": "nominal", "scale": {"domain": ["ND","STZ-Ctrl","STZ-1,3-BDO","STZ-HCAR2⁻/⁻-Ctrl","STZ-HCAR2⁻/⁻-1,3-BDO"], "range": ["#8dbd48","#c4473a","#3f7fc4","#595959","#7d4a8e"]}, "legend": null}}},
     {"data": {"name": "k_bar"}, "mark": {"type": "errorbar", "ticks": {"size": 7}, "thickness": 0.8, "color": "#000"}, "encoding": {"y": {"field": "mean", "type": "quantitative", "title": "Fasting Insulin (ng/mL)"}, "yError": {"field": "sd"}}},
     {"data": {"name": "k_pts"}, "mark": {"type": "point", "filled": true, "size": 7, "color": "#000", "opacity": 1}, "encoding": {"y": {"field": "value", "type": "quantitative", "title": "Fasting Insulin (ng/mL)"}}},
     {"data": {"name": "k_sig"}, "mark": {"type": "rule", "strokeWidth": 0.7, "color": "#000"}, "encoding": {"x": {"field": "g1", "type": "nominal"}, "x2": {"field": "g2"}, "y": {"field": "y", "type": "quantitative", "title": "Fasting Insulin (ng/mL)"}}},
     {"data": {"name": "k_sig"}, "mark": {"type": "rule", "strokeWidth": 0.7, "color": "#000"}, "encoding": {"x": {"field": "g1", "type": "nominal"}, "y": {"field": "y", "type": "quantitative", "title": "Fasting Insulin (ng/mL)"}, "y2": {"field": "yt"}}},
     {"data": {"name": "k_sig"}, "mark": {"type": "rule", "strokeWidth": 0.7, "color": "#000"}, "encoding": {"x": {"field": "g2", "type": "nominal"}, "y": {"field": "y", "type": "quantitative", "title": "Fasting Insulin (ng/mL)"}, "y2": {"field": "yt"}}},
     {"data": {"name": "k_sig"}, "mark": {"type": "text", "fontSize": 7.5, "baseline": "bottom", "dy": -1}, "encoding": {"x": {"field": "g1", "type": "nominal", "bandPosition": 1.125}, "y": {"field": "y", "type": "quantitative", "title": "Fasting Insulin (ng/mL)"}, "text": {"field": "label"}}}
    ]
   },
   {
    "title": {"text": "l", "dx": -2, "offset": 10},
    "width": 102, "height": 72,
    "encoding": {
     "x": {"field": "group", "type": "nominal", "title": null, "scale": {"domain": ["ND","STZ-Ctrl","STZ-1,3-BDO","STZ-HCAR2⁻/⁻-Ctrl","STZ-HCAR2⁻/⁻-1,3-BDO"], "paddingInner": 0.2, "paddingOuter": 0.1}, "axis": {"labelAngle": -45, "labelAlign": "right", "labelBaseline": "top", "ticks": false, "labelPadding": 3}}
    },
    "layer": [
     {"data": {"name": "l_bar"}, "mark": {"type": "bar"}, "encoding": {"y": {"field": "mean", "type": "quantitative", "title": "Relative HOMA-IR", "scale": {"domain": [0, 2], "nice": false}, "axis": {"values": [0,0.5,1,1.5,2], "format": ".1f"}}, "color": {"field": "group", "type": "nominal", "scale": {"domain": ["ND","STZ-Ctrl","STZ-1,3-BDO","STZ-HCAR2⁻/⁻-Ctrl","STZ-HCAR2⁻/⁻-1,3-BDO"], "range": ["#8dbd48","#c4473a","#3f7fc4","#595959","#7d4a8e"]}, "legend": null}}},
     {"data": {"name": "l_bar"}, "mark": {"type": "errorbar", "ticks": {"size": 7}, "thickness": 0.8, "color": "#000"}, "encoding": {"y": {"field": "mean", "type": "quantitative", "title": "Relative HOMA-IR"}, "yError": {"field": "sd"}}},
     {"data": {"name": "l_pts"}, "mark": {"type": "point", "filled": true, "size": 7, "color": "#000", "opacity": 1}, "encoding": {"y": {"field": "value", "type": "quantitative", "title": "Relative HOMA-IR"}}},
     {"data": {"name": "l_sig"}, "mark": {"type": "rule", "strokeWidth": 0.7, "color": "#000"}, "encoding": {"x": {"field": "g1", "type": "nominal"}, "x2": {"field": "g2"}, "y": {"field": "y", "type": "quantitative", "title": "Relative HOMA-IR"}}},
     {"data": {"name": "l_sig"}, "mark": {"type": "rule", "strokeWidth": 0.7, "color": "#000"}, "encoding": {"x": {"field": "g1", "type": "nominal"}, "y": {"field": "y", "type": "quantitative", "title": "Relative HOMA-IR"}, "y2": {"field": "yt"}}},
     {"data": {"name": "l_sig"}, "mark": {"type": "rule", "strokeWidth": 0.7, "color": "#000"}, "encoding": {"x": {"field": "g2", "type": "nominal"}, "y": {"field": "y", "type": "quantitative", "title": "Relative HOMA-IR"}, "y2": {"field": "yt"}}},
     {"data": {"name": "l_sig"}, "mark": {"type": "text", "fontSize": 7.5, "baseline": "bottom", "dy": -1}, "encoding": {"x": {"field": "g1", "type": "nominal", "bandPosition": 1.125}, "y": {"field": "y", "type": "quantitative", "title": "Relative HOMA-IR"}, "text": {"field": "label"}}}
    ]
   }
   ]}
   ]}
  ]
 }
 ]}
]
}
